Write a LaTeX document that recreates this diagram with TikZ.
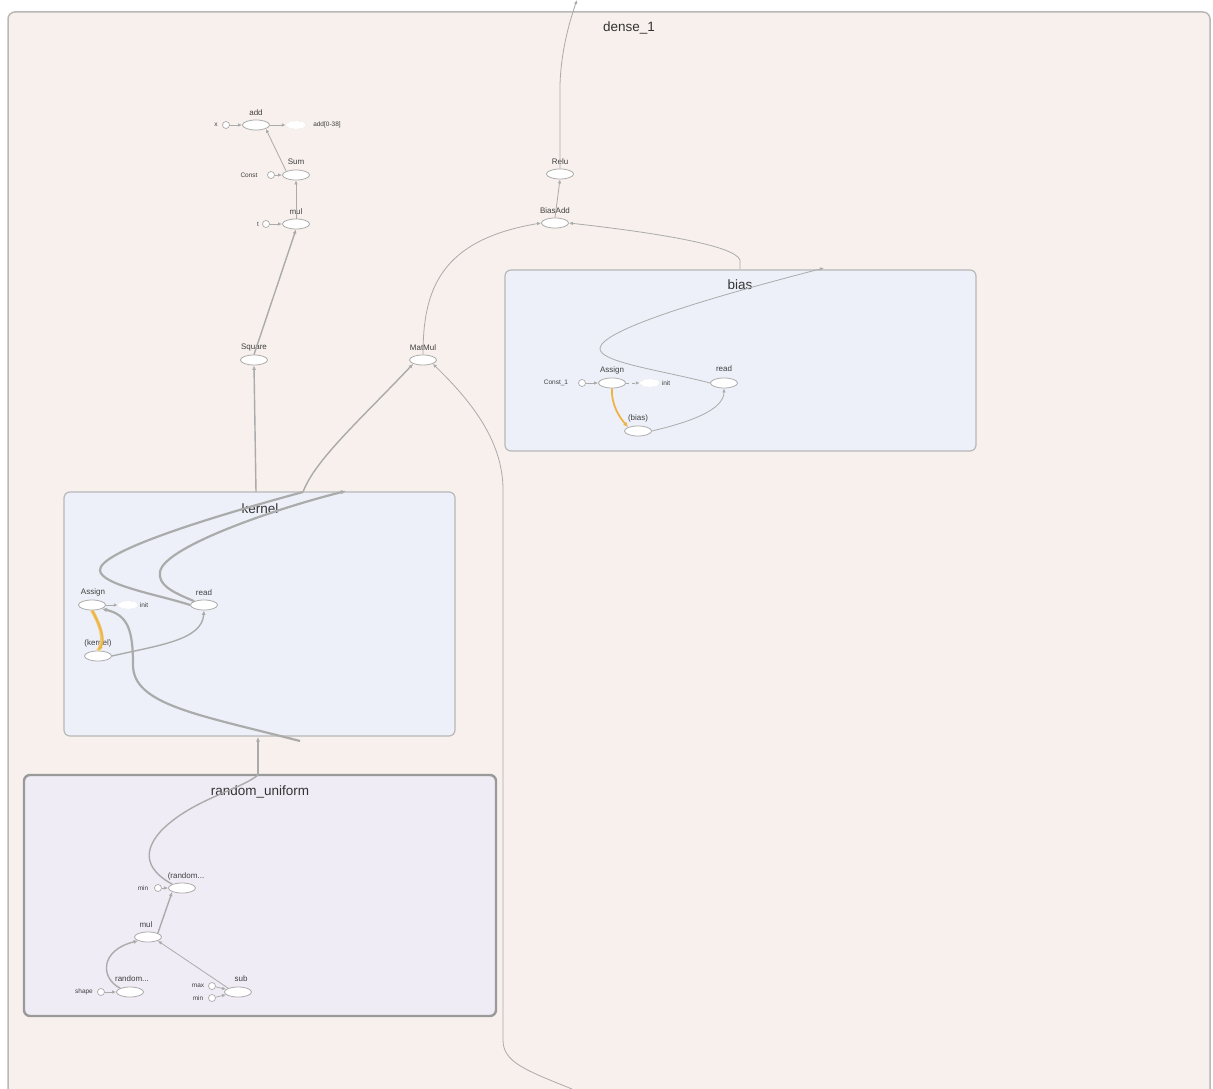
\documentclass[tikz,border=0pt]{standalone}
\usepackage{fontspec}
\setmainfont{Liberation Sans}
\usetikzlibrary{shapes.geometric,arrows.meta}
\definecolor{bgpink}{HTML}{F7F0EC}
\definecolor{boxblue}{HTML}{EDF0F8}
\definecolor{boxlav}{HTML}{F0ECF5}
\definecolor{edgegray}{HTML}{ABABAB}
\definecolor{bordergray}{HTML}{B8B8B8}
\definecolor{darkborder}{HTML}{9A9A9A}
\definecolor{orangeedge}{HTML}{EDB445}
\begin{document}
\begin{tikzpicture}[x=1pt,y=-1pt,
  op/.style={ellipse, draw=edgegray, fill=white, minimum width=27pt, minimum height=10pt, inner sep=0pt, line width=0.8pt},
  ghost/.style={ellipse, draw=black!8, fill=white, dashed, minimum width=20pt, minimum height=8pt, inner sep=0pt, line width=0.5pt},
  constc/.style={circle, draw=edgegray, fill=white, minimum size=7pt, inner sep=0pt, line width=0.7pt},
  lbl/.style={font=\fontsize{8}{9}\selectfont, text=black!75, inner sep=0.5pt},
  slbl/.style={font=\fontsize{6.5}{7.5}\selectfont, text=black!75, inner sep=0.5pt},
  boxtitle/.style={font=\fontsize{13.5}{15}\selectfont, text=black!80, inner sep=1pt},
  thinedge/.style={draw=edgegray, line width=0.8pt, -{Latex[length=4pt,width=3.5pt]}},
  midedge/.style={draw=edgegray, line width=1.4pt, -{Latex[length=4.5pt,width=4pt]}},
  thickedge/.style={draw=edgegray, line width=2.2pt, -{Latex[length=5pt,width=4.5pt]}},
  ctrledge/.style={draw=edgegray, line width=0.8pt, dashed, -{Latex[length=4pt,width=3.5pt]}},
  refedge/.style={draw=orangeedge, line width=1.8pt, -{Latex[length=5pt,width=4.5pt]}},
  groupbox/.style={fill=boxblue, draw=bordergray, line width=1.2pt, rounded corners=6pt},
  lavbox/.style={fill=boxlav, draw=darkborder, line width=2.4pt, rounded corners=6pt}
]
\useasboundingbox (0,0) rectangle (1213,1089);
\fill[white] (0,0) rectangle (1213,1089);
\path[fill=bgpink, draw=bordergray, line width=1.5pt, rounded corners=7pt] (8,12) rectangle (1210,1110);

% group boxes
\path[groupbox] (505,270) rectangle (976,451);
\path[groupbox] (64,492) rectangle (455,736);
\path[lavbox] (24,775) rectangle (496,1016);

\node[boxtitle] (tdense) at (629,28) {dense\_1};
\node[boxtitle] (tbias) at (740,285) {bias};
\node[boxtitle] (tkernel) at (260,509) {kernel};
\node[boxtitle] (truni) at (260,792) {random\_uniform};

% top chain
\node[op] (add) at (256,125) {};
\node[lbl] (addl) at (256,113) {add};
\node[constc] (xc) at (226,125) {};
\node[slbl] (xl) at (216,125) {x};
\node[ghost] (addg) at (296,125) {};
\node[slbl] (addgl) at (327,125) {add[0-38]};
\node[op] (sum) at (296,175) {};
\node[lbl] (suml) at (296,162) {Sum};
\node[constc] (cc) at (271,175) {};
\node[slbl] (ccl) at (249,175) {Const};
\node[op] (mul) at (296,224) {};
\node[lbl] (mull) at (296,212) {mul};
\node[constc] (tc) at (266,224) {};
\node[slbl] (tcl) at (258,224) {t};
\node[op] (square) at (254,360) {};
\node[lbl] (squarel) at (254,348) {Square};
\node[op] (matmul) at (423,360) {};
\node[lbl] (matmull) at (423,348) {MatMul};
\node[op] (biasadd) at (555,223) {};
\node[lbl] (biasaddl) at (555,211) {BiasAdd};
\node[op] (relu) at (560,174) {};
\node[lbl] (relul) at (560,162) {Relu};

% bias group
\node[constc] (bconst) at (582,383) {};
\node[slbl] (bconstl) at (556,383) {Const\_1};
\node[op] (bassign) at (612,383) {};
\node[lbl] (bassignl) at (612,370) {Assign};
\node[ghost] (binit) at (650,383) {};
\node[slbl] (binitl) at (666,383) {init};
\node[op] (bread) at (724,383) {};
\node[lbl] (breadl) at (724,369) {read};
\node[op] (bvar) at (638,431) {};
\node[lbl] (bvarl) at (638,418) {(bias)};

% kernel group
\node[op] (kassign) at (92,605) {};
\node[lbl] (kassignl) at (93,592) {Assign};
\node[ghost] (kinit) at (128,605) {};
\node[slbl] (kinitl) at (144,605) {init};
\node[op] (kread) at (204,605) {};
\node[lbl] (kreadl) at (204,593) {read};
\node[op] (kvar) at (98,656) {};
\node[lbl] (kvarl) at (98,643) {(kernel)};

% random_uniform group
\node[op] (rurand) at (182,888) {};
\node[lbl] (rurandl) at (186,876) {(random...};
\node[constc] (rumin) at (158,888) {};
\node[slbl] (ruminl) at (143,888) {min};
\node[op] (rumul) at (148,937) {};
\node[lbl] (rumull) at (146,925) {mul};
\node[op] (rurnd) at (130,992) {};
\node[lbl] (rurndl) at (132,979) {random...};
\node[constc] (rushape) at (101,992) {};
\node[slbl] (rushapel) at (84,992) {shape};
\node[op] (rusub) at (238,992) {};
\node[lbl] (rusubl) at (241,979) {sub};
\node[constc] (rumax) at (212,986) {};
\node[slbl] (rumaxl) at (198,986) {max};
\node[constc] (rumin2) at (212,998) {};
\node[slbl] (rumin2l) at (198,998) {min};

% free ends
\coordinate (ktop1) at (303,492);
\coordinate (ktop2) at (346,491);
\coordinate (ksq) at (256,492);
\coordinate (kbot) at (300,741);
\coordinate (kin) at (258,737);
\coordinate (ruout) at (258,775);
\coordinate (btop1) at (740,269);
\coordinate (btop2) at (824,268);
\coordinate (topout) at (577,0);
\coordinate (botin) at (572,1089);

% top chain edges
\draw[thinedge] (xc) -- (add);
\draw[thinedge] (add) -- (addg);
\draw[thinedge] (sum.north west) -- (add.south east);
\draw[thinedge] (cc) -- (sum);
\draw[thinedge] (mul) -- (sum);
\draw[thinedge] (tc) -- (mul);
\draw[midedge] (square.north) -- (mul.south);
\draw[midedge] (ksq) -- (square.south);
\draw[midedge] (ktop1) .. controls (315,460) and (360,420) .. (matmul.south west);
\draw[thinedge] (matmul.north) .. controls (423,290) and (440,240) .. (biasadd.west);
\draw[thinedge] (btop1) -- (740,260) .. controls (735,245) and (650,232) .. (biasadd.east);
\draw[thinedge] (biasadd.north) -- (relu.south);
\draw[thinedge] (relu.north) -- (560,85) .. controls (561,50) and (570,20) .. (topout);
\draw[thinedge] (botin) .. controls (525,1070) and (503,1062) .. (503,1040) -- (503,490) .. controls (503,440) and (470,400) .. (matmul.south east);

% bias edges
\draw[thinedge] (bconst) -- (bassign);
\draw[ctrledge] (bassign) -- (binit);
\draw[refedge] (bassign.south) .. controls (611,405) and (620,418) .. (bvar.north west);
\draw[thinedge] (bvar.east) .. controls (690,422) and (724,410) .. (bread.south);
\draw[thinedge] (bread.west) .. controls (660,370) and (598,362) .. (600,348) .. controls (603,330) and (700,300) .. (btop2);

% kernel edges
\draw[thinedge] (kassign) -- (kinit);
\draw[draw=orangeedge!70, line width=3.5pt] (kassign.south) .. controls (100,625) and (106,640) .. (kvar.north);
\draw[refedge] (kassign.south) .. controls (100,625) and (106,640) .. (kvar.north);
\draw[midedge] (kvar.east) .. controls (160,645) and (202,640) .. (kread.south);
\draw[thickedge, -] (kread.west) .. controls (160,595) and (100,585) .. (100,570) .. controls (100,552) and (200,520) .. (ktop1);
\draw[thickedge] (kread.north west) .. controls (172,592) and (158,585) .. (160,572) .. controls (163,548) and (270,510) .. (ktop2);
\draw[thickedge] (kbot) .. controls (200,715) and (133,705) .. (133,665) .. controls (133,630) and (128,615) .. (kassign.south east);
\draw[midedge] (ruout) -- (kin);

% random_uniform edges
\draw[thinedge] (rumin) -- (rurand);
\draw[midedge, -] (rurand.north west) .. controls (150,872) and (140,855) .. (160,832) .. controls (190,800) and (240,790) .. (ruout);
\draw[midedge] (rumul.north east) -- (rurand.south west);
\draw[midedge] (rurnd.north west) .. controls (100,978) and (100,950) .. (rumul.south west);
\draw[thinedge] (rusub.north west) -- (rumul.south east);
\draw[thinedge] (rushape) -- (rurnd);
\draw[thinedge] (rumax) -- (rusub);
\draw[thinedge] (rumin2) -- (rusub);
\end{tikzpicture}
\end{document}
